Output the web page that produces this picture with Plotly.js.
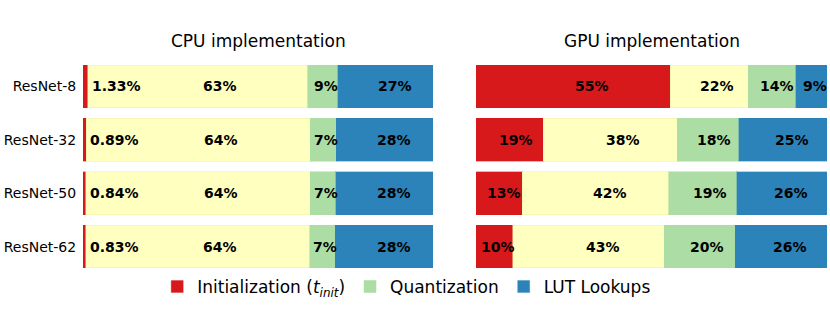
<!DOCTYPE html>
<html>
<head>
<meta charset="utf-8">
<script src="https://cdn.plot.ly/plotly-3.0.1.min.js"></script>
<style>html,body{margin:0;padding:0;background:#fff;}#chart{width:830px;height:312px;}</style>
</head>
<body>
<div id="chart"></div>
<script>
const categories = ['ResNet-8', 'ResNet-32', 'ResNet-50', 'ResNet-62'];
const cpuInit  = [1.33, 0.89, 0.84, 0.83];
const cpuOther = [62.9, 64.1, 64.1, 64.0];
const cpuQuant = [8.6, 7.4, 7.3, 7.3];
const cpuLut   = [27.1, 27.6, 27.7, 27.8];
const gpuInit  = [55.3, 19.1, 13.2, 10.4];
const gpuOther = [22.2, 38.2, 41.7, 43.2];
const gpuQuant = [13.6, 17.6, 19.4, 20.3];
const gpuLut   = [8.9, 25.1, 25.8, 26.1];
const seriesNames = ['Initialization (<i>t</i><sub><i>init</i></sub>)', 'Other', 'Quantization', 'LUT Lookups'];
const panelTitles = ['CPU implementation', 'GPU implementation'];

const colors = ['#d7191c', '#ffffbf', '#abdda4', '#2b83ba'];
const edgeColors = ['rgba(215,25,28,0.35)', 'rgba(240,240,170,0.5)', 'rgba(171,221,164,0.5)', 'rgba(43,131,186,0.35)'];
const FONT = 'DejaVu Sans, Verdana, sans-serif';

const panels = [
  {series: [cpuInit, cpuOther, cpuQuant, cpuLut], xa: 'x', ya: 'y', legend: true},
  {series: [gpuInit, gpuOther, gpuQuant, gpuLut], xa: 'x2', ya: 'y2', legend: false}
];

const traces = [];
const annotations = [];
panels.forEach((p, pi) => {
  p.series.forEach((vals, si) => {
    traces.push({
      type: 'bar', orientation: 'h',
      x: vals, y: categories,
      xaxis: p.xa, yaxis: p.ya,
      name: seriesNames[si],
      legendgroup: 's' + si,
      showlegend: p.legend && si !== 1,
      marker: {color: colors[si], line: {color: edgeColors[si], width: 1}},
      width: 0.8,
      hoverinfo: 'skip'
    });
  });
  categories.forEach((c, ci) => {
    let cum = 0;
    p.series.forEach((vals, si) => {
      const w = vals[ci];
      const small = w < 3;
      const txt = (pi === 0 && si === 0) ? w.toFixed(2) + '%' : Math.round(w) + '%';
      annotations.push({
        xref: p.xa, yref: p.ya,
        x: small ? cum + w + 0.6 : cum + 0.6 * w,
        y: c,
        xanchor: small ? 'left' : 'center', yanchor: 'middle',
        text: '<b>' + txt + '</b>', showarrow: false,
        font: {family: FONT, size: 14, color: '#000'}
      });
      cum += w;
    });
  });
});

panelTitles.forEach((t, i) => {
  const dom = i === 0 ? [0.1, 0.5217] : [0.5735, 0.9964];
  annotations.push({
    xref: 'paper', yref: 'paper', x: (dom[0] + dom[1]) / 2, y: 1 - 41 / 312,
    xanchor: 'center', yanchor: 'middle', text: t, showarrow: false,
    font: {family: FONT, size: 17, color: '#000'}
  });
});

const yDom = [1 - 273.3 / 312, 1 - 59.7 / 312];
const xBase = {range: [0, 100], showgrid: false, zeroline: false, showticklabels: false, ticks: '', showline: false, fixedrange: true};
const layout = {
  width: 830, height: 312,
  margin: {l: 0, r: 0, t: 0, b: 0},
  paper_bgcolor: '#fff', plot_bgcolor: '#fff',
  barmode: 'stack', bargap: 0.2,
  font: {family: FONT, size: 14, color: '#000'},
  xaxis: Object.assign({}, xBase, {domain: [0.1, 0.5217], anchor: 'y'}),
  xaxis2: Object.assign({}, xBase, {domain: [0.5735, 0.9964], anchor: 'y2'}),
  yaxis: {domain: yDom, type: 'category', range: [3.5, -0.5], showgrid: false, zeroline: false, showline: false,
          ticks: 'outside', ticklen: 3, tickcolor: 'rgba(0,0,0,0)', tickfont: {family: FONT, size: 14, color: '#000'}, anchor: 'x', fixedrange: true},
  yaxis2: {domain: yDom, type: 'category', range: [3.5, -0.5], showgrid: false, zeroline: false, showline: false,
           showticklabels: false, ticks: '', anchor: 'x2', fixedrange: true},
  showlegend: true,
  legend: {orientation: 'h', x: 0.49, xanchor: 'center', y: 1 - 287 / 312, yanchor: 'middle',
           font: {family: FONT, size: 17, color: '#000'}, traceorder: 'normal', bgcolor: 'rgba(0,0,0,0)'},
  annotations: annotations
};

Plotly.newPlot('chart', traces, layout, {displayModeBar: false, staticPlot: true});
</script>
</body>
</html>
